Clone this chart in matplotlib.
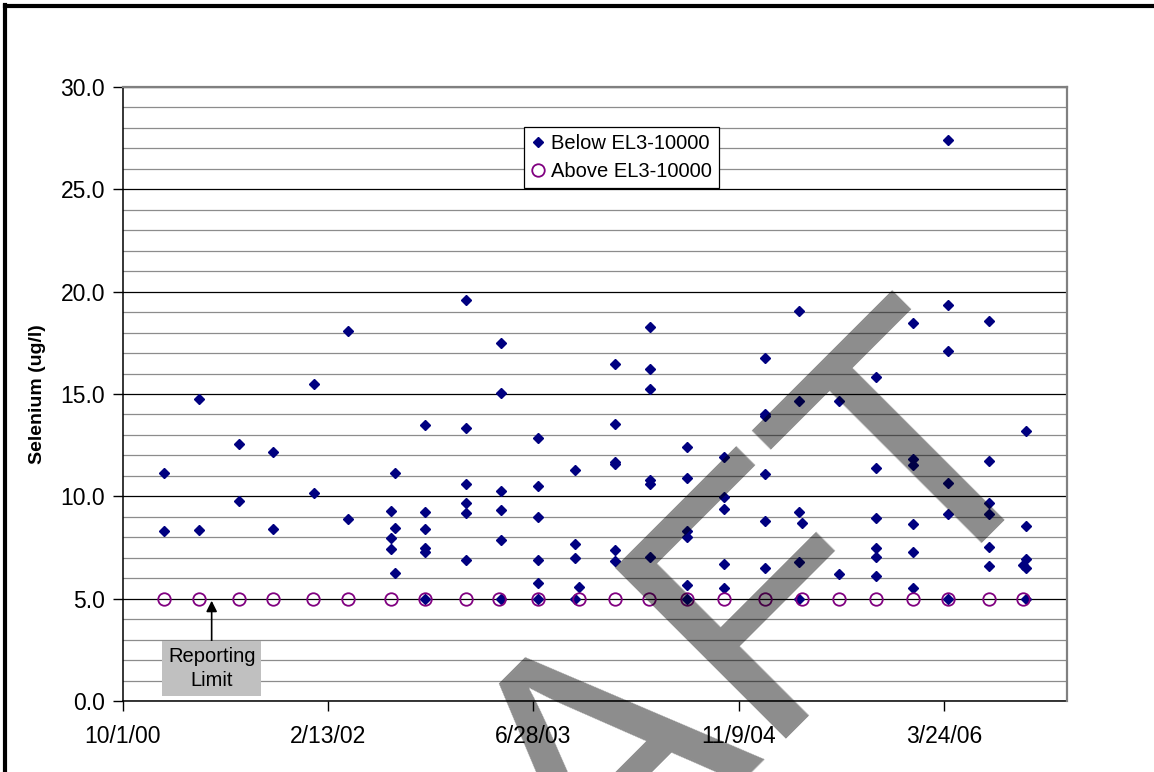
import numpy as np
import matplotlib
matplotlib.use("Agg")
import matplotlib.pyplot as plt
from matplotlib.lines import Line2D

plt.rcParams["font.family"] = ["Liberation Sans", "DejaVu Sans"]

# sample dates with Se results below EL3-10000 (several results per date)
below_dates = ["2001-01-09", "2001-04-04", "2001-07-11", "2001-10-02", "2002-01-09",
               "2002-04-02", "2002-07-17", "2002-07-25", "2002-10-08", "2003-01-14",
               "2003-04-09", "2003-07-10", "2003-10-08", "2003-10-17", "2004-01-12",
               "2004-04-06", "2004-07-05", "2004-10-04", "2005-01-11", "2005-04-04",
               "2005-04-12", "2005-07-11", "2005-10-10", "2006-01-09", "2006-04-04",
               "2006-07-11", "2006-10-03", "2006-10-11"]
below_values = [
    [11.15, 8.30], [14.75, 8.35], [12.54, 9.77], [12.18, 8.39], [15.47, 10.18],
    [18.07, 8.87], [9.27, 7.95, 7.44], [11.12, 8.45, 6.24],
    [13.50, 9.25, 8.39, 7.49, 7.26, 5.0], [19.59, 13.34, 10.60, 9.67, 9.17, 6.87],
    [17.47, 15.03, 10.27, 9.33, 7.88, 5.0], [12.85, 10.52, 9.00, 6.89, 5.75, 5.0],
    [11.27, 7.65, 6.97, 5.0], [5.58], [16.46, 13.53, 11.58, 11.70, 7.38, 6.82],
    [18.27, 16.22, 15.23, 10.62, 10.80, 7.02], [12.39, 10.88, 8.30, 8.03, 5.68, 5.0],
    [11.93, 9.98, 9.38, 6.71, 5.51], [16.77, 14.02, 13.92, 11.09, 8.81, 6.51],
    [19.07, 14.64, 9.23, 6.79, 5.0], [8.70], [14.66, 6.20],
    [15.81, 11.38, 8.94, 7.49, 7.03, 6.11], [18.45, 11.81, 11.53, 8.66, 7.28, 5.51],
    [27.41, 19.35, 17.10, 10.63, 9.15, 5.0], [18.56, 11.71, 9.69, 9.14, 7.54, 6.60],
    [6.63], [13.19, 8.55, 6.94, 6.48, 5.0],
]

# results above EL3-10000 (all at the 5.0 reporting limit)
above_dates = ["2001-01-09", "2001-04-04", "2001-07-11", "2001-10-02", "2002-01-08",
               "2002-04-03", "2002-07-17", "2002-10-08", "2003-01-14", "2003-04-05",
               "2003-07-10", "2003-10-17", "2004-01-12", "2004-04-05", "2004-07-05",
               "2004-10-04", "2005-01-11", "2005-04-12", "2005-07-11", "2005-10-10",
               "2006-01-09", "2006-04-04", "2006-07-11", "2006-10-03"]
above_values = [5.0] * len(above_dates)

bx = np.concatenate([np.full(len(v), np.datetime64(d)) for d, v in zip(below_dates, below_values)])
by = np.concatenate(below_values)
ax_dates = np.array(above_dates, dtype="datetime64[D]")

fig = plt.figure(figsize=(11.54, 7.72), dpi=100)
ax = fig.add_axes([123 / 1154, 71 / 772, 944 / 1154, 614 / 772])

ax.plot(bx, by, "D", color="#000080", ms=5.2, ls="none", label="Below EL3-10000", zorder=3)
ax.plot(ax_dates, above_values, "o", mfc="none", mec="#800080", mew=1.3, ms=9,
        ls="none", label="Above EL3-10000", zorder=4)

start = np.datetime64("2000-10-01")
ax.set_xlim(start, start + np.timedelta64(2300, "D"))
ax.set_ylim(0, 30)
ticks = [start + np.timedelta64(500 * k, "D") for k in range(5)]
ax.set_xticks(ticks)
labels = []
for t in ticks:
    d = t.astype(object)
    labels.append(f"{d.month}/{d.day}/{d:%y}")
ax.set_xticklabels(labels)
ax.set_yticks(np.arange(0, 31, 5))
ax.set_yticks(np.arange(0, 31, 1), minor=True)
ax.yaxis.set_major_formatter(matplotlib.ticker.FormatStrFormatter("%.1f"))
ax.tick_params(axis="both", which="major", labelsize=16.5, length=7, width=1,
               direction="out", color="black")
ax.tick_params(axis="x", pad=10)
ax.tick_params(axis="y", pad=6)
ax.tick_params(axis="y", which="minor", length=0)

ax.set_axisbelow(True)
ax.grid(axis="y", which="minor", color="#8c8c8c", lw=0.9)
ax.grid(axis="y", which="major", color="black", lw=0.9)
for side in ("left", "bottom"):
    ax.spines[side].set_color("black")
    ax.spines[side].set_linewidth(1.1)
for side in ("top", "right"):
    ax.spines[side].set_color("#808080")
    ax.spines[side].set_linewidth(1.6)
    ax.spines[side].set_zorder(5)

ax.set_ylabel("Selenium (ug/l)", fontsize=14, fontweight="bold", labelpad=10)

leg = ax.legend(loc="upper left", bbox_to_anchor=(0.4248, 0.935), fontsize=14.5,
                frameon=True, fancybox=False, framealpha=1, edgecolor="black",
                handlelength=0.7, handletextpad=0.3, borderpad=0.35,
                labelspacing=0.45, borderaxespad=0)
leg.get_frame().set_linewidth(0.9)

ax.annotate("Reporting\nLimit", xy=(np.datetime64("2001-05-05"), 4.9),
            xytext=(np.datetime64("2001-05-05"), 1.6), ha="center", va="center",
            fontsize=14.5, linespacing=1.3,
            bbox=dict(boxstyle="square,pad=0.3", fc="#c0c0c0", ec="none"),
            arrowprops=dict(arrowstyle="-|>", color="black", lw=1.2,
                            mutation_scale=16, shrinkA=0, shrinkB=0),
            zorder=6)

# DRAFT watermark
fig.text(0.5603, -0.099, "DRAFT", fontsize=253, color="black", alpha=0.45,
         rotation=45, rotation_mode="anchor", ha="center", va="baseline", zorder=10)

# outer chart frame
fig.add_artist(Line2D([5 / 1154, 5 / 1154], [0, 1 - 5 / 772], transform=fig.transFigure,
                      color="black", lw=3, solid_capstyle="projecting"))
fig.add_artist(Line2D([5 / 1154, 1.0], [1 - 6 / 772, 1 - 6 / 772], transform=fig.transFigure,
                      color="black", lw=3, solid_capstyle="projecting"))

fig.savefig("out.png", dpi=100)
